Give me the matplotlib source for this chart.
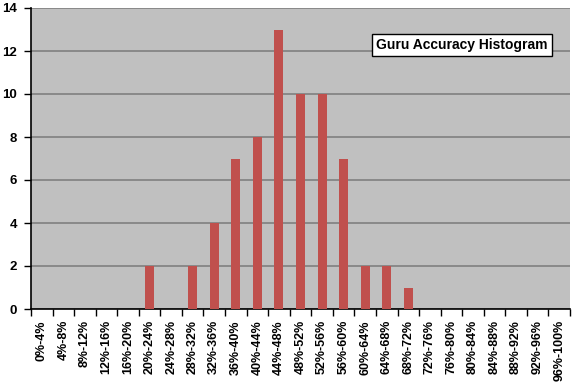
import numpy as np
import matplotlib.pyplot as plt

labels = ['0%-4%', '4%-8%', '8%-12%', '12%-16%', '16%-20%', '20%-24%', '24%-28%',
          '28%-32%', '32%-36%', '36%-40%', '40%-44%', '44%-48%', '48%-52%', '52%-56%',
          '56%-60%', '60%-64%', '64%-68%', '68%-72%', '72%-76%', '76%-80%', '80%-84%',
          '84%-88%', '88%-92%', '92%-96%', '96%-100%']
counts = [0, 0, 0, 0, 0, 2, 0, 2, 4, 7, 8, 13, 10, 10, 7, 2, 2, 1, 0, 0, 0, 0, 0, 0, 0]

plt.rcParams['font.family'] = 'Liberation Sans'
plt.rcParams['font.weight'] = 'bold'

fig = plt.figure(figsize=(5.76, 3.84), dpi=100)
ax = fig.add_axes([31 / 576, 1 - 309 / 384, 539 / 576, 301 / 384])
ax.set_facecolor('#C0C0C0')

x = np.arange(len(labels))
ax.bar(x, counts, width=0.42, color='#C0504D', zorder=3)

ax.set_xlim(-0.5, len(labels) - 0.5)
ax.set_ylim(0, 14)
ax.set_yticks(range(0, 15, 2))
ax.grid(axis='y', color='#808080', linewidth=1.2, zorder=1)

ax.set_xticks(np.arange(-0.5, len(labels), 1))
ax.set_xticklabels([])
ax.set_xticks(x, minor=True)
ax.set_xticklabels(labels, minor=True, rotation=90, fontsize=9, fontweight='bold')
ax.tick_params(axis='x', which='major', length=5, width=1, color='black')
ax.tick_params(axis='x', which='minor', length=0, pad=8)
ax.tick_params(axis='y', length=5, width=1, labelsize=9.5, pad=5)

for s in ['top', 'right']:
    ax.spines[s].set_visible(False)
ax.spines['left'].set_linewidth(1.2)
ax.spines['bottom'].set_linewidth(1.2)

ax.text(0.80, 0.877, 'Guru Accuracy Histogram', transform=ax.transAxes,
        ha='center', va='center', fontsize=10, fontweight='bold',
        bbox=dict(facecolor='white', edgecolor='black', boxstyle='square,pad=0.3'),
        zorder=5)

fig.savefig('out.png', dpi=100)
